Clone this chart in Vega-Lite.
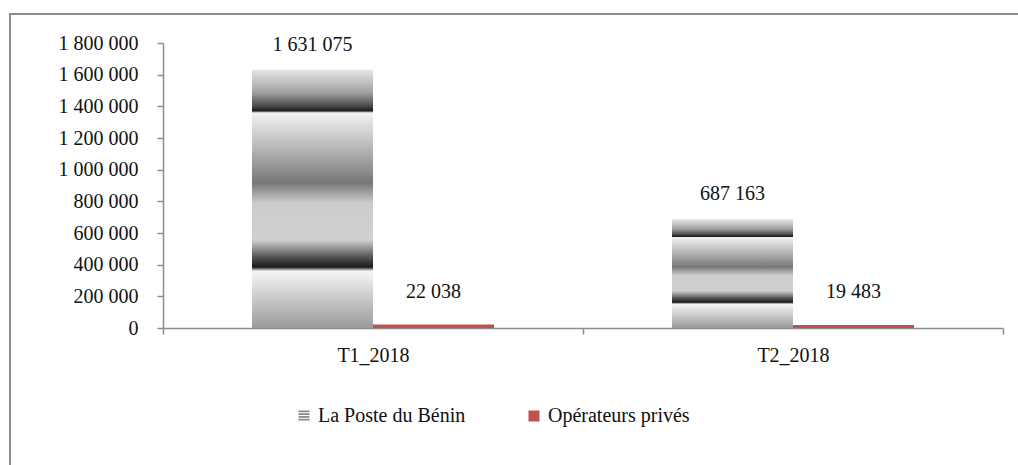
{
  "$schema": "https://vega.github.io/schema/vega-lite/v6.json",
  "width": 1008,
  "height": 451,
  "autosize": {"type": "none"},
  "padding": {"left": 10, "top": 14, "right": 0, "bottom": 0},
  "background": "white",
  "config": {
    "view": {"stroke": "#8c8c8c", "strokeWidth": 2, "strokeDash": [1008, 1459, 451]},
    "locale": {"number": {"decimal": ",", "thousands": " ", "grouping": [3], "currency": ["", ""]}},
    "font": "Liberation Serif",
    "text": {"font": "Liberation Serif", "fontSize": 20, "color": "#111111"},
    "axis": {
      "domainColor": "#8c8c8c",
      "domainWidth": 1.5,
      "tickColor": "#8c8c8c",
      "tickWidth": 1.5,
      "tickSize": 6,
      "labelFont": "Liberation Serif",
      "labelFontSize": 20,
      "labelColor": "#111111",
      "grid": false,
      "title": null
    },
    "legend": {"labelFont": "Liberation Serif", "labelFontSize": 20, "labelColor": "#111111", "padding": 0}
  },
  "data": {
    "values": [
      {"periode": "T1_2018", "serie": "La Poste du Bénin", "valeur": 1631075},
      {"periode": "T1_2018", "serie": "Opérateurs privés", "valeur": 22038},
      {"periode": "T2_2018", "serie": "La Poste du Bénin", "valeur": 687163},
      {"periode": "T2_2018", "serie": "Opérateurs privés", "valeur": 19483}
    ]
  },
  "encoding": {
    "x": {
      "field": "periode",
      "type": "nominal",
      "scale": {"range": [153, 993], "paddingInner": 0, "paddingOuter": 0},
      "axis": {"orient": "bottom", "offset": -137, "tickBand": "extent", "labelPadding": 11, "labelAngle": 0}
    },
    "xOffset": {"field": "serie", "type": "nominal", "scale": {"domain": ["La Poste du Bénin", "Opérateurs privés"], "paddingInner": 0, "paddingOuter": 0.7355}},
    "y": {
      "field": "valeur",
      "type": "quantitative",
      "scale": {"domain": [0, 1800000], "range": [314, 29], "nice": false},
      "axis": {
        "orient": "left",
        "offset": -153,
        "values": [0, 200000, 400000, 600000, 800000, 1000000, 1200000, 1400000, 1600000, 1800000],
        "labelExpr": "format(datum.value, ',')",
        "labelPadding": 19
      }
    }
  },
  "layer": [
    {
      "transform": [{"filter": "datum.serie == 'La Poste du Bénin'"}],
      "mark": {
        "type": "bar",
        "color": {
          "gradient": "linear",
          "x1": 0, "y1": 0, "x2": 0, "y2": 1,
          "stops": [
            {"offset": 0, "color": "#e6e6e6"},
            {"offset": 0.089, "color": "#a0a0a0"},
            {"offset": 0.143, "color": "#454545"},
            {"offset": 0.159, "color": "#1a1a1a"},
            {"offset": 0.167, "color": "#f2f2f2"},
            {"offset": 0.283, "color": "#c0c0c0"},
            {"offset": 0.438, "color": "#777777"},
            {"offset": 0.516, "color": "#cccccc"},
            {"offset": 0.659, "color": "#d0d0d0"},
            {"offset": 0.725, "color": "#555555"},
            {"offset": 0.764, "color": "#1a1a1a"},
            {"offset": 0.78, "color": "#f5f5f5"},
            {"offset": 1, "color": "#9a9a9a"}
          ]
        }
      }
    },
    {
      "transform": [{"filter": "datum.serie == 'Opérateurs privés'"}],
      "mark": {"type": "bar", "color": "#C0504D"}
    },
    {
      "mark": {"type": "square", "opacity": 0},
      "encoding": {
        "color": {
          "field": "serie",
          "type": "nominal",
          "scale": {"domain": ["La Poste du Bénin", "Opérateurs privés"], "range": ["#8c8c8c", "#C0504D"]},
          "legend": {
            "orient": "none",
            "legendX": 284,
            "legendY": 392,
            "direction": "horizontal",
            "title": null,
            "symbolType": "square",
            "symbolSize": 121,
            "symbolOpacity": 1,
            "columnPadding": 58,
            "labelOffset": 4,
            "labelFont": "Liberation Serif",
            "labelFontSize": 20,
            "labelColor": "#111111",
            "encode": {
              "symbols": {
                "update": {
                  "shape": {"signal": "datum.label === 'La Poste du Bénin' ? 'M-1,-1H1V-0.7H-1Z M-1,-0.5H1V-0.2H-1Z M-1,0H1V0.3H-1Z M-1,0.5H1V0.8H-1Z' : 'square'"},
                  "opacity": {"value": 1}
                }
              }
            }
          }
        }
      }
    },
    {
      "transform": [{"filter": "datum.serie == 'La Poste du Bénin'"}],
      "mark": {"type": "text", "dy": -25, "baseline": "middle"},
      "encoding": {"text": {"field": "valeur", "type": "quantitative", "format": ","}}
    },
    {
      "transform": [{"filter": "datum.serie == 'Opérateurs privés'"}],
      "mark": {"type": "text", "dy": -33, "baseline": "middle"},
      "encoding": {"text": {"field": "valeur", "type": "quantitative", "format": ","}}
    }
  ]
}
